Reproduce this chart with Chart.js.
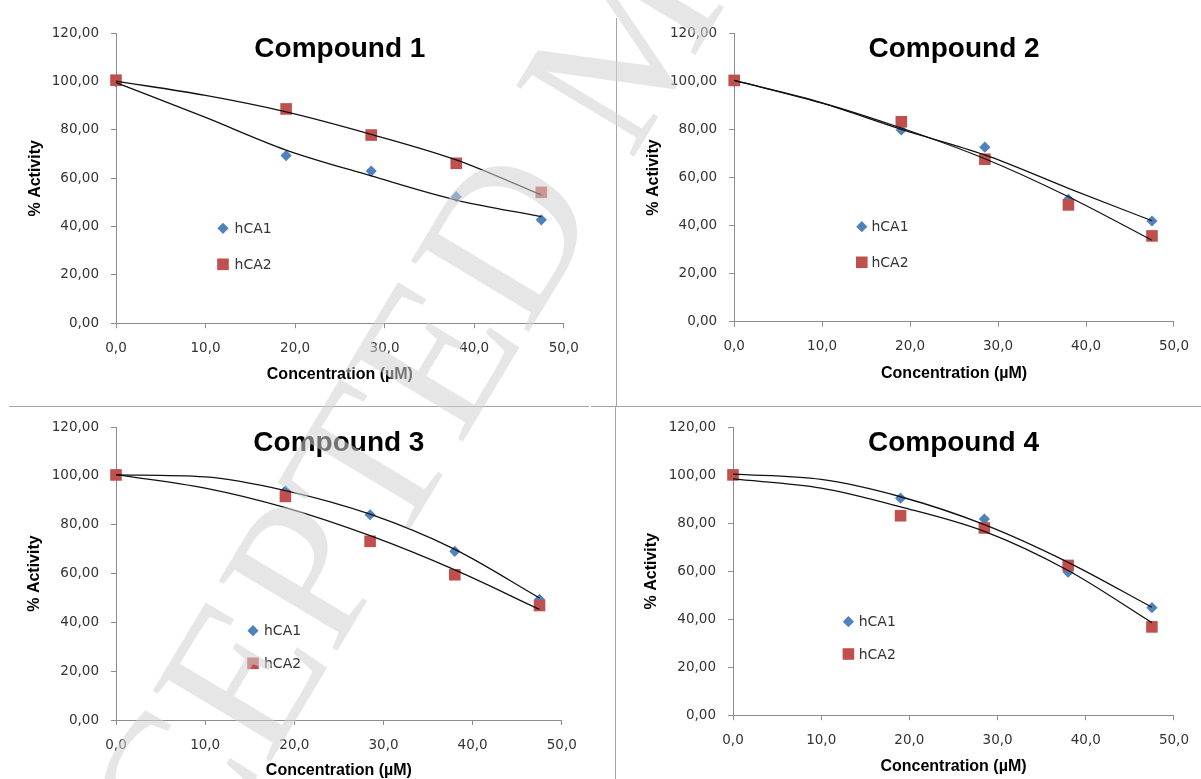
<!DOCTYPE html>
<html>
<head>
<meta charset="utf-8">
<title>hCA inhibition</title>
<script src="https://cdn.jsdelivr.net/npm/chart.js@4.4.1/dist/chart.umd.min.js"></script>
<style>
  html, body { margin: 0; padding: 0; background: #fff; }
  #page { position: relative; width: 1201px; height: 779px; overflow: hidden; }
  #page canvas { position: absolute; }
  .rule { position: absolute; background: #a6a6a6; }
  #watermark { z-index: 5; pointer-events: none; }
</style>
</head>
<body>
<div id="page">
  <canvas id="c1" width="610" height="405" style="left:0;top:0"></canvas>
  <canvas id="c2" width="584" height="405" style="left:617px;top:0"></canvas>
  <canvas id="c3" width="612" height="372" style="left:0;top:407px"></canvas>
  <canvas id="c4" width="584" height="372" style="left:617px;top:407px"></canvas>
  <div class="rule" style="left:9px;top:406px;width:580px;height:1.4px"></div>
  <div class="rule" style="left:591px;top:406px;width:610px;height:1.4px"></div>
  <div class="rule" style="left:616px;top:18px;width:1.4px;height:389px"></div>
  <div class="rule" style="left:614.5px;top:407px;width:1.4px;height:372px"></div>
  <canvas id="watermark" width="1201" height="779" style="left:0;top:0"></canvas>
</div>
<script>
// concentrations (µM) of the measured points and of the trend line readings
const concentration = [0, 19, 28.5, 38, 47.5];
const fitConcentration = [0, 10, 19, 28.5, 38, 47.5];

const compoundNames = ['Compound 1', 'Compound 2', 'Compound 3', 'Compound 4'];
const seriesNames = ['hCA1', 'hCA2'];
const seriesColors = ['#4F81BD', '#C0504D'];

const yTicks = [0, 20, 40, 60, 80, 100, 120];
const xTicks = [0, 10, 20, 30, 40, 50];

// % activity
const hca1Compound1 = [100.0, 69.4, 63.0, 52.4, 42.8];
const hca2Compound1 = [100.6, 88.7, 77.9, 66.2, 54.2];
const hca1Compound2 = [100.0, 79.8, 72.6, 50.9, 41.9];
const hca2Compound2 = [100.4, 83.2, 67.6, 48.6, 35.7];
const hca1Compound3 = [100.5, 93.9, 84.1, 69.1, 49.4];
const hca2Compound3 = [100.4, 91.6, 73.2, 59.5, 46.9];
const hca1Compound4 = [100.0, 90.4, 81.7, 59.6, 44.8];
const hca2Compound4 = [100.1, 83.1, 78.0, 62.4, 36.8];

// polynomial trend lines, read at fitConcentration
const hca1Trend1 = [99.6, 85.2, 71.7, 61.0, 51.0, 44.1];
const hca2Trend1 = [100.2, 94.3, 87.5, 78.2, 67.6, 53.1];
const hca1Trend2 = [100.4, 90.9, 80.0, 69.4, 55.5, 42.0];
const hca2Trend2 = [100.4, 91.1, 80.6, 67.8, 52.0, 33.9];
const hca1Trend3 = [100.4, 99.6, 94.0, 84.3, 69.9, 50.0];
const hca2Trend3 = [100.5, 95.0, 87.0, 75.5, 61.5, 45.3];
const hca1Trend4 = [100.4, 98.2, 91.0, 79.4, 63.7, 45.0];
const hca2Trend4 = [98.4, 94.6, 86.8, 76.6, 60.3, 38.6];

const axisGrey = '#8c8c8c';
const tickFont = { family: 'DejaVu Sans', size: 13.5 };
const labelFont = { family: 'Liberation Sans', size: 16, weight: 'bold', lineHeight: 1 };

const panels = [
  { id: 'c1', name: compoundNames[0], s1: hca1Compound1, s2: hca2Compound1, t1: hca1Trend1, t2: hca2Trend1,
    padTop: 33.3, padRight: 46.3, yW: 116, xH: 81.7, yTitleX: 35.6, xTitleOff: 30,
    key: { x: 223, y: 228.3, row: 36, gap: 11.6 } },
  { id: 'c2', name: compoundNames[1], s1: hca1Compound2, s2: hca2Compound2, t1: hca1Trend2, t2: hca2Trend2,
    padTop: 33.3, padRight: 19.6, yW: 117.2, xH: 83.3, yTitleX: 36.7, xTitleOff: 31.7,
    key: { x: 244.8, y: 226.7, row: 35.6, gap: 9.6 } },
  { id: 'c3', name: compoundNames[2], s1: hca1Compound3, s2: hca2Compound3, t1: hca1Trend3, t2: hca2Trend3,
    padTop: 19, padRight: 50.2, yW: 116, xH: 59, yTitleX: 34.4, xTitleOff: 8.3,
    key: { x: 253, y: 223.7, row: 32.6, gap: 11 } },
  { id: 'c4', name: compoundNames[3], s1: hca1Compound4, s2: hca2Compound4, t1: hca1Trend4, t2: hca2Trend4,
    padTop: 19, padRight: 22.2, yW: 116, xH: 63.7, yTitleX: 34.7, xTitleOff: 12.3,
    key: { x: 231.4, y: 214.7, row: 32.3, gap: 10.3 } }
];

function toPoints(xs, ys) {
  return xs.map(function (x, i) { return { x: x, y: ys[i] }; });
}

function markerPath(ctx, style, r, x, y) {
  ctx.beginPath();
  if (style === 'rectRot') {
    ctx.moveTo(x, y - r);
    ctx.lineTo(x + r, y);
    ctx.lineTo(x, y + r);
    ctx.lineTo(x - r, y);
  } else {
    const h = r * Math.SQRT1_2;
    ctx.rect(x - h, y - h, 2 * h, 2 * h);
  }
  ctx.closePath();
}

// big bold heading inside the plot area
const compoundTitle = {
  id: 'compoundTitle',
  afterDraw(chart, args, opts) {
    const { ctx, chartArea } = chart;
    ctx.save();
    ctx.font = 'bold 28px "Liberation Sans"';
    ctx.fillStyle = '#000';
    ctx.textAlign = 'center';
    ctx.textBaseline = 'middle';
    ctx.fillText(opts.text, (chartArea.left + chartArea.right) / 2, chartArea.top + 16);
    ctx.restore();
  }
};

// floating key with the two series
const seriesKey = {
  id: 'seriesKey',
  afterDraw(chart, args, opts) {
    const ctx = chart.ctx;
    ctx.save();
    ctx.font = '14px "DejaVu Sans"';
    ctx.textAlign = 'left';
    ctx.textBaseline = 'middle';
    seriesNames.forEach(function (name, i) {
      const ds = chart.data.datasets.find(function (d) { return d.label === name; });
      const y = opts.y + i * opts.row;
      ctx.fillStyle = ds.backgroundColor;
      markerPath(ctx, ds.pointStyle, ds.pointRadius, opts.x, y);
      ctx.fill();
      ctx.fillStyle = '#333';
      ctx.fillText(name, opts.x + opts.gap, y + 1);
    });
    ctx.restore();
  }
};

panels.forEach(function (p) {
  new Chart(document.getElementById(p.id), {
    type: 'scatter',
    data: {
      datasets: [
        { type: 'line', data: toPoints(fitConcentration, p.t1), borderColor: '#111', borderWidth: 1.3,
          pointRadius: 0, cubicInterpolationMode: 'monotone', fill: false, order: 0, clip: false },
        { type: 'line', data: toPoints(fitConcentration, p.t2), borderColor: '#111', borderWidth: 1.3,
          pointRadius: 0, cubicInterpolationMode: 'monotone', fill: false, order: 0, clip: false },
        { label: seriesNames[1], data: toPoints(concentration, p.s2), pointStyle: 'rect', pointRadius: 8.2,
          backgroundColor: seriesColors[1], borderWidth: 0, pointBorderWidth: 0, order: 1, clip: false },
        { label: seriesNames[0], data: toPoints(concentration, p.s1), pointStyle: 'rectRot', pointRadius: 5.6,
          backgroundColor: seriesColors[0], borderWidth: 0, pointBorderWidth: 0, order: 2, clip: false }
      ]
    },
    options: {
      responsive: false,
      animation: false,
      events: [],
      layout: { padding: { left: 0, top: p.padTop, right: p.padRight, bottom: 0 } },
      plugins: {
        legend: { display: false },
        tooltip: { enabled: false },
        compoundTitle: { text: p.name },
        seriesKey: p.key
      },
      scales: {
        x: {
          type: 'linear', min: 0, max: 50,
          afterBuildTicks: function (s) { s.ticks = xTicks.map(function (v) { return { value: v }; }); },
          afterFit: function (s) { s.height = p.xH; },
          ticks: { font: tickFont, color: '#333', padding: 12, maxRotation: 0,
                   callback: function (v) { return v.toFixed(1).replace('.', ','); } },
          grid: { drawOnChartArea: false, tickLength: 5, color: axisGrey },
          border: { color: axisGrey },
          title: { display: true, text: 'Concentration (µM)', font: labelFont, color: '#000',
                   padding: { top: 0, bottom: Math.max(0, p.xTitleOff - 8) } }
        },
        y: {
          type: 'linear', min: 0, max: 120,
          afterBuildTicks: function (s) { s.ticks = yTicks.map(function (v) { return { value: v }; }); },
          afterFit: function (s) { s.width = p.yW; },
          ticks: { font: tickFont, color: '#333', padding: 12,
                   callback: function (v) { return v.toFixed(2).replace('.', ','); } },
          grid: { drawOnChartArea: false, tickLength: 5, color: axisGrey },
          border: { color: axisGrey },
          title: { display: true, text: '% Activity', font: labelFont, color: '#000',
                   padding: { top: p.yTitleX - 8, bottom: 0 } }
        }
      }
    },
    plugins: [compoundTitle, seriesKey]
  });
});

// translucent diagonal stamp across the whole figure
const wm = document.getElementById('watermark').getContext('2d');
wm.save();
wm.translate(45, 1137);
wm.rotate(-59 * Math.PI / 180);
wm.font = '210px "Liberation Serif"';
wm.fillStyle = 'rgba(210,210,210,0.55)';
wm.fillText('ACCEPTED MANUSCRIPT', 0, 0);
wm.restore();
</script>
</body>
</html>
